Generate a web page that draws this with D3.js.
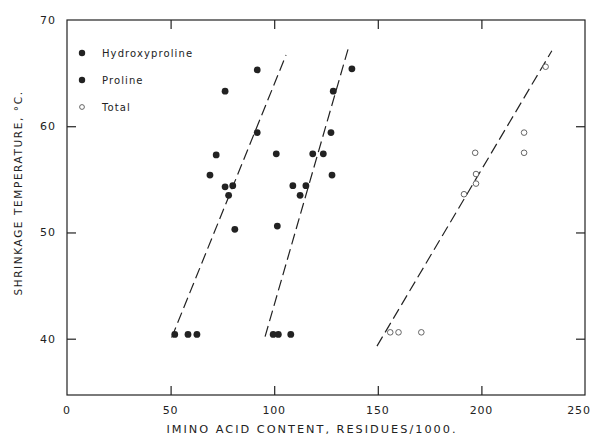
<!DOCTYPE html>
<html><head><meta charset="utf-8">
<script src="https://cdn.jsdelivr.net/npm/d3@7"></script>
<style>body{margin:0;background:#fff}svg{display:block}text{font-family:"DejaVu Sans",sans-serif;fill:#222}</style>
</head><body><svg id="c" width="595" height="438"></svg>
<script>
const hydroxyproline = [[52,40.4],[58.4,40.4],[62.7,40.4],[81,50.3],[69,55.4],[72,57.3],[76.3,63.3],[76.3,54.3],[80,54.4],[78,53.5],[91.8,65.3],[91.8,59.4]];
const proline = [[99.5,40.4],[102,40.4],[108,40.4],[101.5,50.6],[101,57.4],[109,54.4],[112.5,53.5],[115.3,54.4],[118.6,57.4],[123.7,57.4],[127.9,55.4],[127.4,59.4],[128.5,63.3],[137.5,65.4]];
const total = [[156,40.6],[160,40.6],[171,40.6],[191.6,53.6],[197.4,54.6],[197.4,55.5],[197,57.5],[220.6,57.5],[220.6,59.4],[231,65.6]];
const fitLines = [[[50.5,40.1],[105.7,66.7]],[[95.6,40.2],[136,67.5]],[[149.6,39.3],[234,67.1]]];
const xTicks = [0,50,100,150,200,250];
const yTicks = [40,50,60,70];
const legendItems = [["Hydroxyproline","filled"],["Proline","filled"],["Total","open"]];

const svg = d3.select("#c");
const L=67,R=585,T=20,B=395;
const x = d3.scaleLinear().domain([0,250]).range([L,R]);
const y = d3.scaleLinear().domain([34.7,70]).range([B,T]);
const ink="#222";

svg.append("rect").attr("x",L).attr("y",T).attr("width",R-L).attr("height",B-T)
  .attr("fill","none").attr("stroke",ink).attr("stroke-width",1.2);

const gb = svg.append("g").attr("transform",`translate(0,${B})`).call(d3.axisTop(x).tickValues(xTicks.slice(1,-1)).tickSize(9).tickFormat(""));
const gt = svg.append("g").attr("transform",`translate(0,${T})`).call(d3.axisBottom(x).tickValues(xTicks.slice(1,-1)).tickSize(9).tickFormat(""));
const gl = svg.append("g").attr("transform",`translate(${L},0)`).call(d3.axisRight(y).tickValues(yTicks.slice(0,-1)).tickSize(9).tickFormat(""));
const gr = svg.append("g").attr("transform",`translate(${R},0)`).call(d3.axisLeft(y).tickValues(yTicks.slice(0,-1)).tickSize(9).tickFormat(""));
[gb,gt,gl,gr].forEach(g=>{g.select(".domain").remove();g.selectAll("line").attr("stroke",ink).attr("stroke-width",1.2);});

svg.append("g").selectAll("text").data(xTicks).join("text")
  .attr("x",d=>Math.min(x(d),579)).attr("y",414).attr("text-anchor","middle").attr("font-size",11).attr("letter-spacing",0.8).text(d=>d);
svg.append("g").selectAll("text").data(yTicks).join("text")
  .attr("x",56).attr("y",d=>y(d)+4).attr("text-anchor","end").attr("font-size",11).attr("letter-spacing",1).text(d=>d);

svg.append("text").attr("x",312).attr("y",433).attr("text-anchor","middle").attr("font-size",11.3).attr("letter-spacing",2)
  .text("IMINO ACID  CONTENT, RESIDUES/1000.");
svg.append("text").attr("transform","translate(22,193) rotate(-90)").attr("text-anchor","middle").attr("font-size",10.5).attr("letter-spacing",1.6)
  .text("SHRINKAGE  TEMPERATURE, °C.");

const line = d3.line().x(d=>x(d[0])).y(d=>y(d[1]));
svg.append("g").selectAll("path").data(fitLines).join("path")
  .attr("d",line).attr("fill","none").attr("stroke",ink).attr("stroke-width",1.2).attr("stroke-dasharray","11,5");

const pts = svg.append("g");
pts.selectAll("circle.h").data(hydroxyproline).join("circle").attr("class","h")
  .attr("cx",d=>x(d[0])).attr("cy",d=>y(d[1])).attr("r",3.4).attr("fill",ink);
pts.selectAll("circle.p").data(proline).join("circle").attr("class","p")
  .attr("cx",d=>x(d[0])).attr("cy",d=>y(d[1])).attr("r",3.4).attr("fill",ink);
pts.selectAll("circle.t").data(total).join("circle").attr("class","t")
  .attr("cx",d=>x(d[0])).attr("cy",d=>y(d[1])).attr("r",2.8).attr("fill","#fff").attr("stroke","#555").attr("stroke-width",0.9);

const lg = svg.append("g").selectAll("g").data(legendItems).join("g")
  .attr("transform",(d,i)=>`translate(82,${53+i*27})`);
lg.append("circle").attr("r",d=>d[1]==="filled"?3.2:2.4)
  .attr("fill",d=>d[1]==="filled"?ink:"#fff").attr("stroke",d=>d[1]==="filled"?"none":"#555").attr("stroke-width",0.9);
lg.append("text").attr("x",20).attr("y",4).attr("font-size",10).attr("letter-spacing",1.1).text(d=>d[0]);
</script></body></html>
